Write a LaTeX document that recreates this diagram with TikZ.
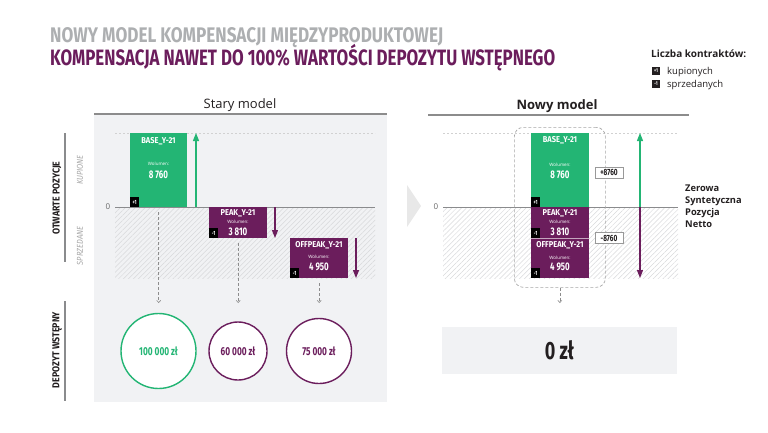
\documentclass[tikz,border=0pt]{standalone}
\usepackage{fontspec}
\usepackage{graphicx}
\setmainfont{Open Sans}
\newfontfamily\cond[FakeStretch=0.72]{Fira Sans}
\newfontfamily\condw[FakeStretch=0.88]{Fira Sans}
\usetikzlibrary{arrows.meta,patterns.meta,calc}
\definecolor{cgreen}{HTML}{23B574}
\definecolor{cpurple}{HTML}{6B1D5C}
\definecolor{ctitlegray}{HTML}{ADAFB1}
\definecolor{cpanel}{HTML}{F1F2F4}
\definecolor{cdark}{HTML}{231F20}
\definecolor{cline}{HTML}{8A8B8D}
\definecolor{chatch}{HTML}{D8D9DB}
\newcommand{\fsz}[1]{\fontsize{#1}{#1}\selectfont}
\begin{document}
\begin{tikzpicture}[x=1pt,y=-1pt,
  gbox/.style={fill=cgreen, draw=none, anchor=north west, inner sep=0pt, minimum width=57pt, minimum height=74pt},
  pbox/.style={fill=cpurple, draw=none, anchor=north west, inner sep=0pt, minimum width=58pt},
  boxlbl/.style={text=white, font=\condw\bfseries\fsz{8.5}, inner sep=0pt},
  wol/.style={text=white, font=\fsz{4.5}, inner sep=0pt},
  boxnum/.style={text=white, font=\cond\bfseries\fsz{11}, inner sep=0pt},
  badge/.style={fill=black, text=white, minimum width=9pt, minimum height=10pt, inner sep=0pt, font=\cond\bfseries\fsz{6}},
  lbadge/.style={fill=cdark, text=white, minimum width=8pt, minimum height=8pt, inner sep=0pt, font=\cond\bfseries\fsz{5.5}},
  hatch/.style={pattern={Lines[angle=45,distance=3.5pt,line width=0.5pt]}, pattern color=chatch},
  topdash/.style={draw=black!18, dash pattern=on 2pt off 2pt, line width=0.6pt},
  zeroline/.style={draw=cline, line width=0.9pt},
  garrow/.style={draw=cgreen, line width=1.2pt, -{Triangle[width=6pt,length=8pt]}},
  parrow/.style={draw=cpurple, line width=1.2pt, -{Triangle[width=6pt,length=8pt]}},
  dasharrow/.style={draw=black!45, dash pattern=on 3pt off 2pt, line width=0.6pt, -{Straight Barb[length=2.2pt,width=4pt]}},
  sidelbl/.style={rotate=90, text=cdark, font=\condw\bfseries\fsz{10}, inner sep=0pt},
  sublbl/.style={rotate=90, text=black!35, font=\condw\itshape\fsz{8.5}, inner sep=0pt},
  sideline/.style={draw=cline, line width=1.2pt},
  zerolbl/.style={text=black!60, font=\fsz{8}, inner sep=0pt},
  depcirc/.style={circle, draw, line width=1.4pt, fill=white, inner sep=0pt, font=\cond\bfseries\fsz{11.5}},
  netbox/.style={draw=black!40, fill=white, line width=0.6pt, minimum width=28pt, minimum height=11pt, inner sep=0pt, text=cdark, font=\cond\bfseries\fsz{9}},
  headline/.style={draw=black!45, line width=1.5pt}
]
\useasboundingbox (0,0) rectangle (768,432);

% titles
\node[anchor=base west, inner sep=0pt, text=ctitlegray] (t1) at (50,42)
  {\resizebox{393pt}{15pt}{\cond\bfseries NOWY MODEL KOMPENSACJI MIĘDZYPRODUKTOWEJ}};
\node[anchor=base west, inner sep=0pt, text=cpurple] (t2) at (50,65)
  {\resizebox{505pt}{16pt}{\cond\bfseries KOMPENSACJA NAWET DO 100\% WARTO\smash{Ś}CI DEPOZYTU WSTĘPNEGO}};

% legend
\node[anchor=base west, inner sep=0pt, text=cdark, font=\bfseries\fsz{10}] (leg) at (651,57) {Liczba kontraktów:};
\node[lbadge] (lb1) at (656,70.5) {+1};
\node[anchor=base west, inner sep=0pt, text=cdark, font=\fsz{9.5}] (lt1) at (667,74) {kupionych};
\node[lbadge] (lb2) at (656,83.5) {-1};
\node[anchor=base west, inner sep=0pt, text=cdark, font=\fsz{9.5}] (lt2) at (667,87) {sprzedanych};

% ---------- left panel ----------
\fill[cpanel] (94,114) rectangle (387,402);
\draw[headline] (94,114) -- (387,114);
\node[anchor=base, inner sep=0pt, text=cdark, font=\fsz{13}] (stary) at (240,108) {Stary model};
\fill[hatch] (115,207) rectangle (375,278);
\draw[topdash] (115,133) -- (375,133);
\draw[zeroline] (115,207) -- (375,207);
\node[zerolbl] (z1) at (108,207) {0};

\node[gbox] (base) at (130,133) {};
\node[pbox, minimum height=31pt] (peak) at (209,207) {};
\node[pbox, minimum height=40pt] (off) at (290,238) {};

\node[boxlbl] (bl1) at (158.5,141.5) {BASE\_Y-21};
\node[wol] (bw1) at (158.5,164) {Wolumen:};
\node[boxnum] (bn1) at (158.5,174.5) {8 760};
\node[badge, anchor=south west] (bb1) at (base.south west) {+1};

\node[boxlbl] (pl1) at (238,213.5) {PEAK\_Y-21};
\node[wol] (pw1) at (238,222) {Wolumen:};
\node[boxnum] (pn1) at (238,231.5) {3 810};
\node[badge, anchor=south west] (pb1) at (peak.south west) {-1};

\node[boxlbl] (ol1) at (319,245.5) {OFFPEAK\_Y-21};
\node[wol] (ow1) at (319,256.5) {Wolumen:};
\node[boxnum] (on1) at (319,266.5) {4 950};
\node[badge, anchor=south west] (ob1) at (off.south west) {-1};

\coordinate (ga0) at (196,207); \coordinate (ga1) at (196,133);
\draw[garrow] (ga0) -- (ga1);
\coordinate (pa0) at (275,207); \coordinate (pa1) at (275,238);
\draw[parrow] (pa0) -- (pa1);
\coordinate (oa0) at (356,238); \coordinate (oa1) at (356,278);
\draw[parrow] (oa0) -- (oa1);

\node[depcirc, draw=cgreen, text=cgreen, minimum size=75pt] (c1) at (158.5,351) {100 000 zł};
\node[depcirc, draw=cpurple, text=cpurple, minimum size=58pt] (c2) at (238,351) {60 000 zł};
\node[depcirc, draw=cpurple, text=cpurple, minimum size=65pt] (c3) at (319,351) {75 000 zł};

\coordinate (ae) at (0,303);
\draw[dasharrow] ($(base.south)+(0,5)$) -- (base.south |- ae);
\draw[dasharrow] ($(peak.south)+(0,5)$) -- (peak.south |- ae);
\draw[dasharrow] ($(off.south)+(0,5)$) -- (off.south |- ae);

% side labels
\draw[sideline] (65,133) -- (65,262);
\draw[sideline] (65,301) -- (65,401);
\node[sidelbl] (op) at (57,198) {OTWARTE POZYCJE};
\node[sidelbl] (dw) at (57,350) {DEPOZYT WSTĘPNY};
\node[sublbl] (kup) at (80,170) {KUPIONE};
\node[sublbl] (spr) at (80,246) {SPRZEDANE};

% chevron
\fill[black!9] (407,185) -- (421,206) -- (407,227) -- cycle;

% ---------- right panel ----------
\draw[headline] (428,115) -- (689,115);
\node[anchor=base, inner sep=0pt, text=cdark, font=\bfseries\fsz{13}] (nowy) at (557,109) {Nowy model};
\fill[hatch] (443,207) rectangle (678,278);
\draw[topdash] (443,133) -- (678,133);
\draw[zeroline] (443,207) -- (678,207);
\node[zerolbl] (z2) at (436,207) {0};

\node[gbox, minimum width=58pt] (rbase) at (531,133) {};
\node[pbox, minimum height=31pt] (rpeak) at (531,207) {};
\node[pbox, minimum height=40pt] (roff) at (531,238) {};
\draw[draw=white!60!cpurple, line width=0.7pt] (rpeak.south west) -- (rpeak.south east);

\node[boxlbl] (rbl) at (560,140.5) {BASE\_Y-21};
\node[wol] (rbw) at (560,164.5) {Wolumen:};
\node[boxnum] (rbn) at (560,174.5) {8 760};
\node[badge, anchor=south west] (rbb) at (rbase.south west) {+1};

\node[boxlbl] (rpl) at (560,213.5) {PEAK\_Y-21};
\node[wol] (rpw) at (560,222) {Wolumen:};
\node[boxnum] (rpn) at (560,231.5) {3 810};
\node[badge, anchor=south west] (rpb) at (rpeak.south west) {-1};

\node[boxlbl] (rol) at (560,245.5) {OFFPEAK\_Y-21};
\node[wol] (row) at (560,257.5) {Wolumen:};
\node[boxnum] (ron) at (560,266.5) {4 950};
\node[badge, anchor=south west] (rob) at (roff.south west) {-1};

\node[draw=black!35, dash pattern=on 3pt off 2pt, line width=0.7pt, rounded corners=9pt, anchor=north west, minimum width=91pt, minimum height=160pt, inner sep=0pt] (grp) at (514,127) {};
\draw[dasharrow] (grp.south) -- (grp.south |- ae);

\node[netbox] (plus) at (609,172.5) {+8760};
\node[netbox] (minus) at (609,238) {-8760};

\coordinate (da0) at (640,207); \coordinate (da1) at (640,133); \coordinate (da2) at (640,278);
\draw[garrow] (da0) -- (da1);
\draw[parrow] (da0) -- (da2);

\node[anchor=north west, inner sep=0pt, align=left, text=cdark, font=\bfseries\fontsize{9.3}{12}\selectfont] (zer) at (685,184.5)
  {Zerowa\\Syntetyczna\\Pozycja\\Netto};

\node[fill=cpanel, minimum width=235pt, minimum height=47pt, inner sep=0pt, text=cdark, font=\cond\bfseries\fsz{25}] (zero) at (559.5,350.5) {0 zł};
\end{tikzpicture}
\end{document}
